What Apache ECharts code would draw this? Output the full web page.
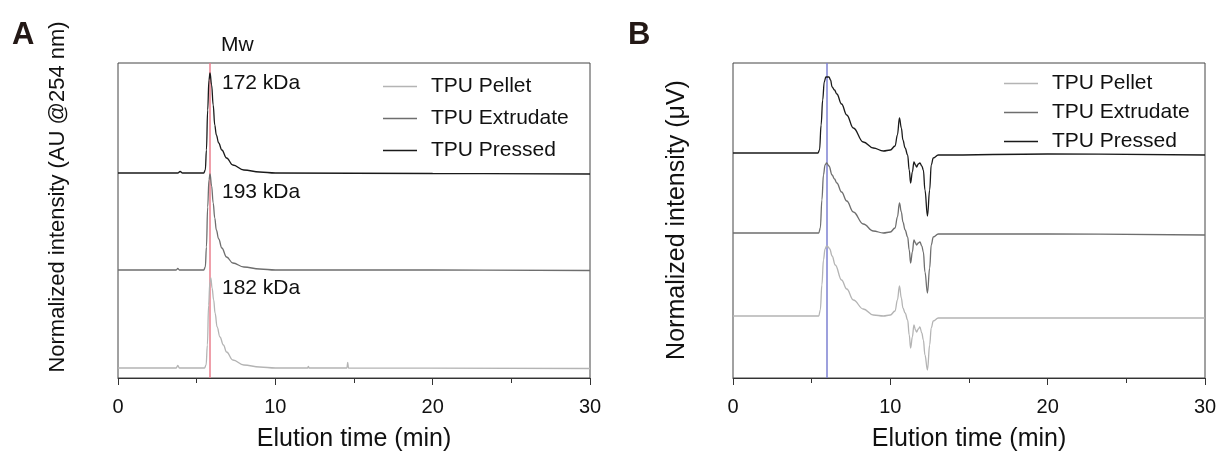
<!DOCTYPE html>
<html style="height: 100%">
<head>
	<meta charset="utf-8">
</head>
<body style="height: 100%; margin: 0; background: #fff">
<div id="container" style="width: 1220px; height: 454px"></div>
<script type="text/javascript" src="https://cdn.jsdelivr.net/npm/echarts@6/dist/echarts.min.js"></script>
<script type="text/javascript">
    // elution time (min), stacked normalized intensity (offset traces)
    var seriesNames = ['TPU Pellet', 'TPU Extrudate', 'TPU Pressed'];
    var mwLabels = ['172 kDa', '193 kDa', '182 kDa'];
    var mwTimeA = 5.85;
    var mwTimeB = 5.97;

    // panel A - UV 254 nm
    var pelletA = [[0,0.1],[3.7,0.1],[3.8,0.125],[3.9,0.1],[5.5,0.1],[5.6,0.13],[5.68,0.33],[5.76,0.73],[5.84,0.96],[5.9,1.0],[5.98,0.9],[6.08,0.78],[6.17,0.65],[6.3,0.51],[6.48,0.41],[6.7,0.33],[6.9,0.26],[7.3,0.18],[8,0.13],[9,0.11],[10,0.1],[12.05,0.1],[12.1,0.115],[12.15,0.1],[14.55,0.1],[14.6,0.155],[14.65,0.1],[30,0.095]];
    var extrudateA = [[0,1.08],[3.7,1.08],[3.8,1.095],[3.9,1.08],[5.45,1.08],[5.55,1.11],[5.62,1.31],[5.7,1.71],[5.78,1.98],[5.85,2.04],[5.95,1.92],[6.05,1.75],[6.15,1.6],[6.25,1.48],[6.4,1.39],[6.6,1.3],[6.9,1.21],[7.3,1.15],[8,1.11],[9,1.09],[10,1.08],[20,1.08],[30,1.075]];
    var pressedA = [[0,2.05],[3.8,2.05],[3.95,2.065],[4.1,2.05],[5.45,2.05],[5.55,2.08],[5.62,2.28],[5.7,2.68],[5.78,2.98],[5.85,3.05],[5.95,2.93],[6.05,2.73],[6.15,2.53],[6.25,2.43],[6.4,2.35],[6.6,2.28],[6.9,2.2],[7.3,2.13],[8,2.08],[9,2.06],[10,2.05],[20,2.045],[30,2.04]];

    // panel B - RI (uV)
    var pelletB = [[0,0.62],[5.45,0.62],[5.55,0.68],[5.65,0.93],[5.75,1.18],[5.85,1.29],[5.95,1.32],[6.05,1.31],[6.15,1.29],[6.3,1.22],[6.5,1.13],[6.9,0.98],[7.23,0.89],[7.65,0.78],[8.28,0.69],[8.92,0.63],[9.56,0.62],[10,0.63],[10.3,0.67],[10.45,0.78],[10.58,0.92],[10.7,0.8],[10.8,0.7],[10.94,0.65],[11.1,0.58],[11.2,0.43],[11.29,0.3],[11.4,0.41],[11.5,0.53],[11.6,0.48],[11.67,0.46],[11.78,0.49],[11.88,0.51],[12,0.45],[12.1,0.38],[12.2,0.23],[12.36,0.08],[12.5,0.33],[12.6,0.5],[12.73,0.57],[13.05,0.6],[20,0.6],[30,0.6]];
    var extrudateB = [[0,1.45],[5.45,1.45],[5.55,1.5],[5.65,1.78],[5.75,2.03],[5.85,2.13],[5.95,2.15],[6.1,2.12],[6.3,2.03],[6.45,1.99],[6.6,1.95],[6.9,1.86],[7.23,1.77],[7.65,1.66],[8.28,1.54],[8.92,1.47],[9.56,1.45],[10,1.46],[10.3,1.5],[10.45,1.61],[10.58,1.75],[10.7,1.66],[10.8,1.56],[10.94,1.48],[11.1,1.41],[11.2,1.28],[11.29,1.15],[11.4,1.26],[11.5,1.38],[11.6,1.35],[11.67,1.33],[11.78,1.35],[11.88,1.36],[12,1.32],[12.1,1.26],[12.2,1.06],[12.36,0.85],[12.5,1.1],[12.6,1.33],[12.73,1.41],[13.05,1.44],[20,1.44],[30,1.43]];
    var pressedB = [[0,2.25],[5.4,2.25],[5.5,2.28],[5.6,2.53],[5.7,2.78],[5.8,2.96],[5.9,3.01],[6.1,3.01],[6.2,2.98],[6.3,2.91],[6.45,2.88],[6.6,2.84],[6.9,2.74],[7.23,2.63],[7.65,2.5],[8.28,2.36],[8.92,2.3],[9.56,2.27],[10,2.28],[10.3,2.32],[10.45,2.43],[10.58,2.6],[10.7,2.5],[10.8,2.38],[10.94,2.3],[11.1,2.23],[11.2,2.08],[11.29,1.95],[11.4,2.06],[11.5,2.16],[11.6,2.13],[11.67,2.11],[11.78,2.14],[11.88,2.15],[12,2.12],[12.1,2.08],[12.2,1.88],[12.36,1.62],[12.5,1.88],[12.6,2.13],[12.73,2.2],[13.05,2.23],[20,2.24],[30,2.23]];

    var lineColors = ['#b4b4b4', '#6e6e6e', '#1a1a1a'];
    var font = 'Arial, "Liberation Sans", sans-serif';

    var dom = document.getElementById("container");
    var myChart = echarts.init(dom);

    function makeX(gridIndex) {
        return {
            type: 'value', gridIndex: gridIndex, min: 0, max: 30, interval: 10,
            name: 'Elution time (min)', nameLocation: 'middle', nameGap: 49,
            nameTextStyle: {fontSize: 25, color: '#111', fontFamily: font},
            axisLine: {onZero: false, lineStyle: {color: '#333', width: 1}},
            axisTick: {inside: false, length: 7, lineStyle: {color: '#333'}},
            minorTick: {show: true, splitNumber: 2, length: 5, lineStyle: {color: '#333'}},
            splitLine: {show: false},
            axisLabel: {fontSize: 20, color: '#111', margin: 19, fontFamily: font}
        };
    }
    function makeY(gridIndex) {
        return {
            type: 'value', gridIndex: gridIndex, min: 0, max: 3.15,
            axisLine: {show: false}, axisTick: {show: false},
            axisLabel: {show: false}, splitLine: {show: false}
        };
    }
    function makeSeries(name, data, idx, axisIdx, mark, markColor) {
        var s = {
            name: name, type: 'line', data: data,
            xAxisIndex: axisIdx, yAxisIndex: axisIdx,
            symbol: 'none', smooth: 0.4, smoothMonotone: 'x',
            lineStyle: {color: lineColors[idx], width: 1.3},
            itemStyle: {color: lineColors[idx]},
            z: 3 + idx
        };
        if (mark != null) {
            s.markLine = {
                silent: true, symbol: 'none', label: {show: false},
                lineStyle: {color: markColor, width: 1.5, type: 'solid'},
                data: [{xAxis: mark}], z: 2
            };
        }
        return s;
    }
    function makeLegend(left, top, gap) {
        return {
            orient: 'vertical', left: left, top: top, itemGap: gap,
            icon: 'rect', itemWidth: 34, itemHeight: 1.5, data: seriesNames,
            textStyle: {fontSize: 21, color: '#111', fontFamily: font, padding: [0, 0, 0, 9]}
        };
    }
    function txt(x, y, s, size, extra) {
        var o = {
            type: 'text', x: x, y: y, z: 10,
            style: {text: s, fontSize: size, fontFamily: font, fill: '#111',
                    align: 'left', verticalAlign: 'middle'}
        };
        for (var k in (extra || {})) o.style[k] = extra[k];
        return o;
    }

    var option = {
        backgroundColor: '#fff',
        animation: false,
        grid: [
            {left: 118, top: 63, width: 472, height: 315, show: true, borderColor: '#444', borderWidth: 1, outerBoundsMode: 'none', containLabel: false},
            {left: 733, top: 63, width: 472, height: 315, show: true, borderColor: '#444', borderWidth: 1, outerBoundsMode: 'none', containLabel: false}
        ],
        xAxis: [makeX(0), makeX(1)],
        yAxis: [makeY(0), makeY(1)],
        legend: [makeLegend(378, 71, 11), makeLegend(999, 68, 8)],
        series: [
            makeSeries(seriesNames[0], pelletA, 0, 0, mwTimeA, '#ea7f8e'),
            makeSeries(seriesNames[1], extrudateA, 1, 0),
            makeSeries(seriesNames[2], pressedA, 2, 0),
            makeSeries(seriesNames[0], pelletB, 0, 1, mwTimeB, '#7d80d2'),
            makeSeries(seriesNames[1], extrudateB, 1, 1),
            makeSeries(seriesNames[2], pressedB, 2, 1)
        ],
        graphic: [
            txt(12, 35, 'A', 31, {fontWeight: 'bold', fill: '#231815'}),
            txt(628, 35, 'B', 31, {fontWeight: 'bold', fill: '#231815'}),
            txt(221, 45, 'Mw', 21),
            txt(222, 83, mwLabels[0], 21),
            txt(222, 192, mwLabels[1], 21),
            txt(222, 288, mwLabels[2], 21),
            {type: 'text', x: 58, y: 197, rotation: Math.PI / 2, z: 10,
             style: {text: 'Normalized intensity (AU @254 nm)', fontSize: 22, fontFamily: font,
                     fill: '#111', align: 'center', verticalAlign: 'middle'}},
            {type: 'text', x: 677, y: 220, rotation: Math.PI / 2, z: 10,
             style: {text: 'Normalized intensity (μV)', fontSize: 25, fontFamily: font,
                     fill: '#111', align: 'center', verticalAlign: 'middle'}}
        ]
    };

    if (option && typeof option === "object") {
        myChart.setOption(option, true);
    }
</script>
</body>
</html>
